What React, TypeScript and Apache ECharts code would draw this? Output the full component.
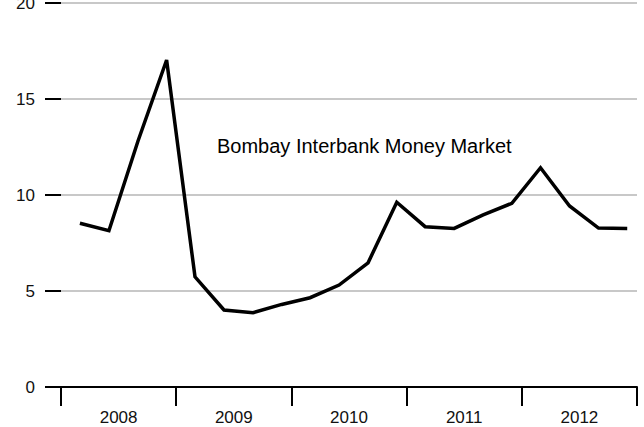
import React, { useEffect, useRef } from "react";
import * as echarts from "echarts";

const years = ["2008", "2009", "2010", "2011", "2012"];
const dates = [
  "2008-03-01", "2008-06-01", "2008-09-01", "2008-12-01",
  "2009-03-01", "2009-06-01", "2009-09-01", "2009-12-01",
  "2010-03-01", "2010-06-01", "2010-09-01", "2010-12-01",
  "2011-03-01", "2011-06-01", "2011-09-01", "2011-12-01",
  "2012-03-01", "2012-06-01", "2012-09-01", "2012-12-01",
];
const rates = [
  8.53, 8.14, 12.8, 17.03,
  5.74, 4.01, 3.87, 4.3,
  4.65, 5.31, 6.47, 9.62,
  8.35, 8.26, 8.96, 9.57,
  11.42, 9.43, 8.28, 8.26,
];
const annotation = "Bombay Interbank Money Market";

export default function App() {
  const ref = useRef<HTMLDivElement>(null);
  useEffect(() => {
    if (!ref.current) return;
    const chart = echarts.init(ref.current, null, { renderer: "svg" });
    const font = "'Liberation Sans', Arial, Helvetica, sans-serif";
    chart.setOption({
      animation: false,
      grid: { left: 61, right: 7, top: 3, bottom: 40, containLabel: false, outerBoundsMode: "none" },
      xAxis: [
        {
          type: "time",
          show: false,
          min: "2008-01-01",
          max: "2013-01-01",
        },
        {
          type: "category",
          data: years,
          position: "bottom",
          boundaryGap: true,
          axisLine: { show: true, lineStyle: { color: "#000", width: 2 } },
          axisTick: { show: true, length: 19, alignWithLabel: false, lineStyle: { color: "#000", width: 2 } },
          axisLabel: { color: "#111", fontSize: 17, fontFamily: font, margin: 22 },
          splitLine: { show: false },
        },
      ],
      yAxis: {
        type: "value",
        min: 0,
        max: 20,
        interval: 5,
        axisLine: { show: false },
        axisTick: { show: true, length: 16, lineStyle: { color: "#000", width: 2 } },
        axisLabel: { color: "#111", fontSize: 17, fontFamily: font, margin: 26 },
        splitLine: { show: true, lineStyle: { color: "#c8c8c8", width: 2 } },
      },
      series: [
        {
          type: "line",
          xAxisIndex: 0,
          data: dates.map((d, i) => [d, rates[i]]),
          showSymbol: false,
          symbol: "none",
          lineStyle: { color: "#000", width: 3.5, join: "miter" },
          z: 5,
        },
      ],
      graphic: [
        {
          type: "text",
          left: 217,
          top: 136,
          style: { text: annotation, fill: "#000", fontSize: 20, fontFamily: font },
        },
      ],
    });
    return () => chart.dispose();
  }, []);
  return (
    <div
      ref={ref}
      style={{ position: "fixed", left: 0, top: 0, width: 644, height: 427, background: "#fff" }}
    />
  );
}
